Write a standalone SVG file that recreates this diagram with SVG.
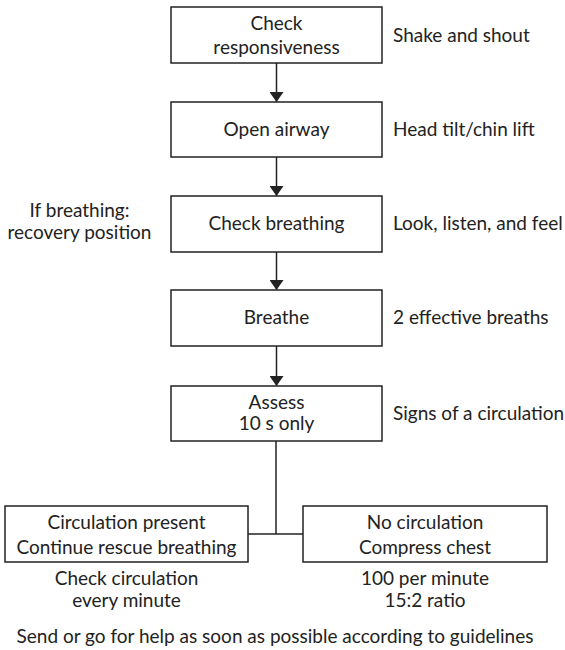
<svg xmlns="http://www.w3.org/2000/svg" width="565" height="650" viewBox="0 0 565 650">
<style>
text{font-family:Lato,"Liberation Sans",sans-serif;font-size:19px;fill:#222}
.c{text-anchor:middle}
.box{fill:#fff;stroke:#222;stroke-width:1.5}
.ln{stroke:#222;stroke-width:1.5;fill:none}
</style>
<defs>
<marker id="ah" markerWidth="10" markerHeight="14" refX="10" refY="7" orient="auto" markerUnits="userSpaceOnUse">
<path d="M0,0 L10,7 L0,14 Z" fill="#222"/>
</marker>
</defs>
<g id="connectors">
<line class="ln" x1="276.5" y1="63" x2="276.5" y2="102" marker-end="url(#ah)"/>
<line class="ln" x1="276.5" y1="157" x2="276.5" y2="196" marker-end="url(#ah)"/>
<line class="ln" x1="276.5" y1="252" x2="276.5" y2="290" marker-end="url(#ah)"/>
<line class="ln" x1="276.5" y1="346" x2="276.5" y2="386" marker-end="url(#ah)"/>
<line class="ln" x1="276" y1="441" x2="276" y2="534"/>
<line class="ln" x1="248" y1="534" x2="303" y2="534"/>
</g>
<g id="n1"><rect class="box" x="171" y="7" width="211" height="56"/><text class="c" x="276.5" y="30">Check</text><text class="c" x="276.5" y="54">responsiveness</text></g>
<g id="n2"><rect class="box" x="171" y="102" width="211" height="55"/><text class="c" x="276.5" y="136">Open airway</text></g>
<g id="n3"><rect class="box" x="171" y="196" width="211" height="56"/><text class="c" x="276.5" y="230">Check breathing</text></g>
<g id="n4"><rect class="box" x="171" y="290" width="211" height="56"/><text class="c" x="276.5" y="324">Breathe</text></g>
<g id="n5"><rect class="box" x="171" y="386" width="211" height="55"/><text class="c" x="276.5" y="409">Assess</text><text class="c" x="276.5" y="430">10 s only</text></g>
<g id="n6"><rect class="box" x="5" y="506" width="243" height="56"/><text class="c" x="126.5" y="529">Circulation present</text><text class="c" x="126.5" y="554">Continue rescue breathing</text></g>
<g id="n7"><rect class="box" x="303" y="506" width="244" height="56"/><text class="c" x="425" y="529">No circulation</text><text class="c" x="425" y="554">Compress chest</text></g>
<g id="labels">
<text x="393" y="42">Shake and shout</text>
<text x="393" y="136">Head tilt/chin lift</text>
<text x="393" y="230">Look, listen, and feel</text>
<text x="393" y="324">2 effective breaths</text>
<text x="393" y="420">Signs of a circulation</text>
<text class="c" x="79.5" y="217">If breathing:</text>
<text class="c" x="79.5" y="239">recovery position</text>
<text class="c" x="126.5" y="585">Check circulation</text>
<text class="c" x="126.5" y="607">every minute</text>
<text class="c" x="425" y="585">100 per minute</text>
<text class="c" x="425" y="607">15:2 ratio</text>
<text class="c" x="275" y="643">Send or go for help as soon as possible according to guidelines</text>
</g>
</svg>
